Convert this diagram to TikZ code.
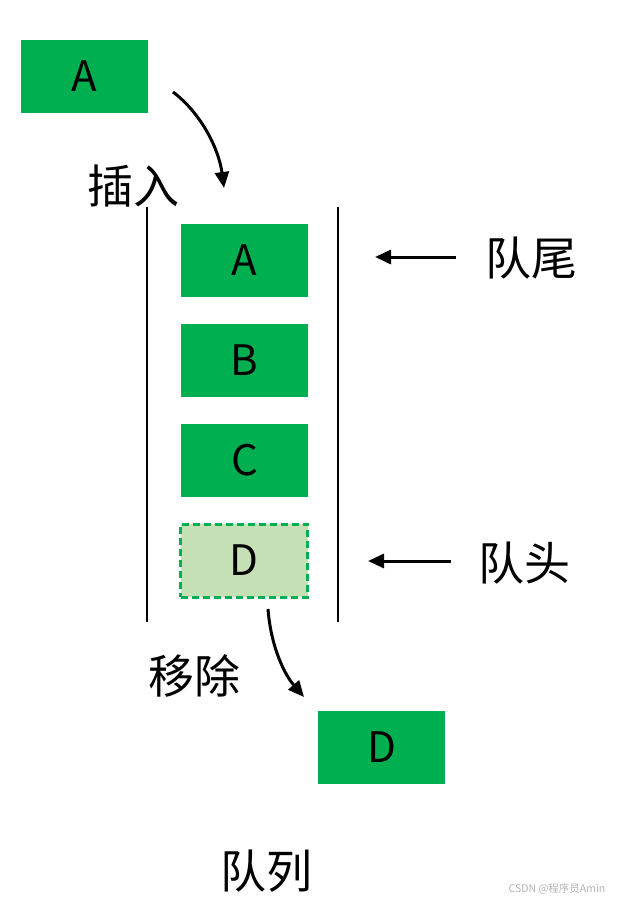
\documentclass[tikz,border=0pt]{standalone}
\usepackage{fontspec}
\setmainfont{Noto Sans CJK SC}
\usetikzlibrary{arrows.meta}
\newcommand{\boxFill}[0]{queueGreen}
\newcommand{\labelSize}[0]{\fontsize{42}{50}\selectfont}
\newcommand{\wordSize}[0]{\fontsize{46}{54}\selectfont}
\definecolor{queueGreen}{HTML}{00B050}
\definecolor{queuePale}{HTML}{C5E0B4}

\begin{document}
\begin{tikzpicture}[x=1pt, y=-1pt]
  \tikzset{
    item/.style={fill=\boxFill, minimum width=127pt, minimum height=73pt,
      inner sep=0pt, font=\labelSize},
    leaving/.style={item, fill=queuePale, draw=queueGreen, line width=3pt,
      dash pattern=on 7pt off 4pt},
    word/.style={inner sep=0pt, font=\wordSize},
    wall/.style={line width=2pt},
    pointer/.style={line width=3pt, -{Triangle[length=16pt,width=14pt]}}
  }
  \useasboundingbox (0,0) rectangle (617,902);
  % item entering
  \node[item] (A-0) at (84,76) {A};
  \node[word] (insert) at (133,186) {插入};
  % the queue
  \draw[wall] (147,207) coordinate (wall-l-top) -- (147,622) coordinate (wall-l-bot);
  \draw[wall] (338,207) coordinate (wall-r-top) -- (338,622) coordinate (wall-r-bot);
  \node[item] (A-1) at (244.5,260.5) {A};
  \node[item] (B-1) at (244.5,360.5) {B};
  \node[item] (C-1) at (244.5,460.5) {C};
  \node[leaving] (D-1) at (244,560.5) {D};
  % item leaving
  \node[word] (remove) at (194,676) {移除};
  \node[item] (D-0) at (381.5,747.5) {D};
  % ends
  \node[word] (tail) at (531,258) {队尾};
  \node[word] (head) at (524,563) {队头};
  \node[word] (queue) at (266,871) {队列};
  \node[font=\fontsize{10.5}{12}\selectfont, text=gray!60] (mark) at (557,889) {CSDN @程序员Amin};
  \coordinate (in-start) at (173,92);
  \coordinate (in-end) at (224,188);
  \coordinate (out-start) at (268,609);
  \coordinate (out-end) at (304,697);
  \coordinate (tail-start) at (456,257);
  \coordinate (tail-end) at (375,257);
  \coordinate (head-start) at (451,561);
  \coordinate (head-end) at (368,561);
  \draw[pointer] (in-start) .. controls (202,114) and (219,150) .. (in-end);
  \draw[pointer] (out-start) .. controls (271,648) and (285,675) .. (out-end);
  \draw[pointer] (tail-start) -- (tail-end);
  \draw[pointer] (head-start) -- (head-end);
\end{tikzpicture}
\end{document}
